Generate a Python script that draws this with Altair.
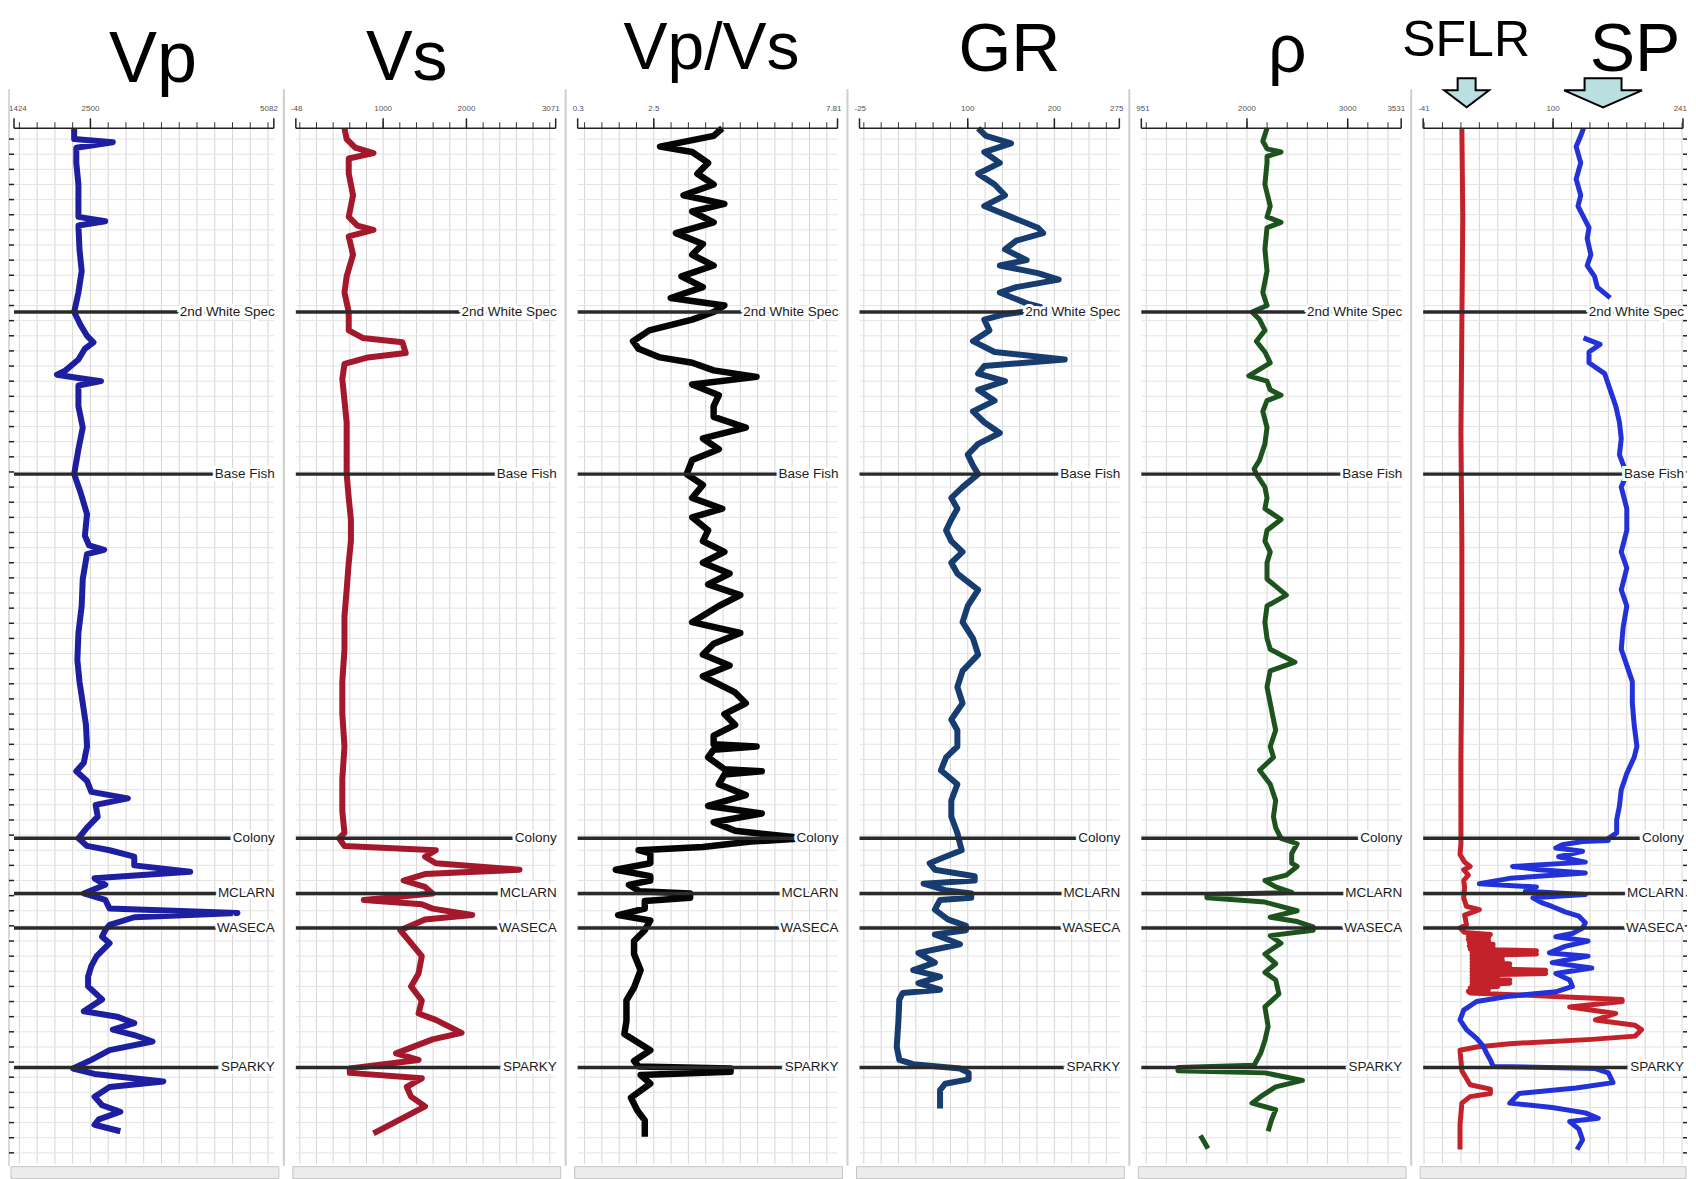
import altair as alt
import pandas as pd

# ---------------- layout / style ----------------
W, H = 260, 1036
DEPTH_DOMAIN = [118, 1076]
GRID_DEPTHS = list(range(128, 1067, 14))
LABEL_FONT = "'Liberation Sans Narrow', 'Arial Narrow', 'Liberation Sans', sans-serif"
TITLE_FONT = "'Liberation Sans', Arial, sans-serif"

# ---------------- data ----------------
TOP_NAMES = ["2nd White Spec", "Base Fish", "Colony", "MCLARN", "WASECA", "SPARKY"]
TOP_DEPTHS = [288, 438, 775, 826, 858, 987]

VP = [(118,2271),(128,2271),(131,2815),(136,2301),(150,2301),(170,2331),(190,2331),(200,2331),(204,2709),(208,2331),
      (230,2346),(250,2377),(270,2331),(288,2271),(300,2361),(310,2452),(316,2543),(322,2422),(332,2331),(342,2150),
      (346,2029),(349,2331),(352,2649),(356,2331),(375,2331),(395,2392),(415,2331),(438,2271),(455,2361),(475,2452),
      (495,2422),(504,2482),(508,2694),(512,2452),(535,2392),(560,2377),(585,2331),(610,2316),(630,2346),(650,2392),
      (670,2437),(690,2452),(705,2407),(713,2301),(722,2452),(732,2513),(738,3027),(744,2573),(755,2603),(765,2452),
      (775,2331),(782,2452),(786,2770),(792,3117),(800,3117),(806,3904),(812,2558),(818,2709),(826,2407),(832,2709),
      (840,2770),(844,4569),(848,3117),(855,2770),(860,2709),(866,2664),(872,2770),(884,2588),(893,2513),(903,2467),
      (912,2467),(924,2664),(935,2407),(940,2876),(946,3117),(952,2815),(957,3117),(963,3374),(971,2770),(980,2513),
      (988,2256),(993,2558),(1000,3526),(1005,2770),(1014,2558),(1022,2664),(1028,2921),(1035,2618),(1040,2558),(1046,2921)]

VS = [(118,536),(128,562),(136,665),(141,884),(146,587),(160,587),(180,639),(200,587),(208,691),(212,884),
      (218,587),(235,639),(255,562),(270,536),(288,587),(305,587),(312,755),(316,1232),(326,1271),(330,819),
      (336,536),(350,510),(370,536),(390,562),(410,562),(438,562),(460,587),(480,613),(500,613),(520,587),
      (545,562),(570,536),(600,536),(630,510),(660,510),(690,536),(720,510),(750,510),(770,536),(775,471),
      (782,536),(786,1632),(792,1503),(798,1632),(804,2637),(808,1503),(814,1245),(820,1503),(826,1593),(832,768),
      (836,1464),(840,1593),(846,2070),(850,1503),(860,1206),(872,1335),(884,1464),(900,1425),(912,1335),(925,1464),
      (937,1425),(943,1632),(955,1941),(961,1593),(974,1155),(980,1425),(988,600),(992,600),(997,1464),(1005,1284),
      (1014,1335),(1023,1503),(1035,1206),(1048,884)]

VPVS = [(118,4.48),(125,4.23),(135,2.68),(140,3.61),(150,4.07),(160,3.76),(170,4.23),(180,3.36),(188,4.54),(195,3.61),
        (205,4.23),(215,3.14),(225,3.92),(235,3.61),(245,4.23),(255,3.30),(265,3.92),(275,2.99),(282,4.54),(288,4.23),
        (295,3.61),(305,2.37),(315,1.90),(322,2.06),(330,2.68),(335,3.61),(342,4.23),(348,5.47),(355,3.61),(365,4.38),
        (375,4.23),(385,4.23),(395,5.16),(405,3.92),(415,4.38),(425,3.61),(438,3.45),(448,3.92),(460,3.61),(470,4.48),
        (478,3.61),(490,4.07),(500,3.92),(510,4.54),(520,3.92),(530,4.69),(540,4.07),(550,5.00),(560,4.38),(575,3.61),
        (585,5.00),(595,4.23),(605,3.92),(615,4.69),(625,3.92),(640,4.85),(650,5.16),(660,4.54),(670,4.85),(680,4.23),
        (688,4.23),(690,5.47),(693,4.23),(700,4.07),(711,4.54),(713,5.62),(716,4.54),(725,4.38),(735,5.16),(745,4.07),
        (752,5.62),(760,4.23),(768,4.85),(775,6.87),(778,5.31),(783,3.92),(786,2.06),(789,2.40),(798,2.40),(804,1.40),
        (810,2.40),(814,2.40),(818,1.78),(824,2.09),(826,3.55),(830,3.55),(833,2.24),(840,2.24),(846,1.47),(851,2.40),
        (860,2.24),(870,1.93),(882,1.93),(897,2.12),(913,1.93),(925,1.71),(944,1.71),(956,1.65),(971,2.40),(981,1.93),
        (986,2.06),(988,4.72),(991,4.72),(994,2.12),(1002,2.40),(1015,1.84),(1027,2.03),(1036,2.24),(1051,2.24)]

GR = [(118,112),(125,121),(132,150),(140,119),(150,137),(160,112),(170,131),(180,143),(190,119),(200,150),
      (210,181),(215,187),(222,156),(230,143),(240,168),(245,137),(252,181),(258,205),(265,156),(270,137),
      (280,168),(285,191),(290,143),(295,119),(305,125),(315,106),(325,131),(332,212),(338,119),(345,112),
      (352,143),(360,112),(370,131),(380,106),(390,119),(400,137),(410,112),(420,100),(430,106),(438,112),
      (450,94),(460,81),(470,88),(480,81),(490,75),(500,81),(510,94),(520,81),(530,88),(545,112),
      (560,100),(575,94),(590,106),(605,112),(620,94),(635,88),(650,94),(665,81),(675,88),(690,88),
      (700,75),(712,69),(725,88),(740,81),(755,81),(770,88),(780,91),(786,93),(792,74),(798,56),
      (804,62),(810,108),(814,108),(817,49),(823,74),(826,104),(830,104),(832,68),(841,62),(850,77),
      (856,98),(860,98),(864,62),(873,91),(881,43),(890,62),(897,37),(903,68),(909,43),(915,68),
      (918,25),(924,21),(943,20),(968,18),(980,21),(984,37),(988,91),(992,101),(998,101),(1002,74),
      (1008,68),(1017,68),(1025,68)]

RHO = [(118,2199),(130,2157),(137,2199),(140,2338),(144,2199),(150,2199),(170,2178),(190,2231),(200,2199),(205,2338),
       (210,2199),(230,2178),(250,2199),(270,2157),(282,2199),(288,2050),(295,2125),(305,2178),(315,2093),(325,2178),
       (335,2231),(347,2018),(352,2199),(360,2231),(365,2338),(370,2199),(380,2157),(395,2199),(410,2178),(425,2125),
       (433,2071),(438,2093),(450,2178),(460,2199),(470,2178),(480,2338),(490,2199),(500,2178),(510,2231),(520,2199),
       (535,2199),(550,2391),(560,2199),(575,2178),(590,2199),(600,2231),(612,2476),(620,2231),(635,2199),(650,2231),
       (665,2263),(675,2285),(690,2231),(700,2263),(712,2125),(725,2231),(740,2285),(755,2263),(765,2285),(775,2338),
       (780,2498),(789,2444),(798,2444),(801,2498),(809,2391),(814,2178),(820,2285),(825,2444),(827,1602),(830,1602),
       (834,2178),(842,2498),(848,2231),(852,2498),(857,2658),(860,2658),(865,2231),(872,2338),(882,2178),(891,2285),
       (899,2178),(906,2285),(919,2317),(931,2178),(949,2210),(962,2178),(974,2135),(985,2071),(987,1315),(990,1315),
       (992,2178),(999,2551),(1005,2285),(1014,2135),(1020,2050),(1026,2285),(1036,2242),(1046,2210)]
RHO_TAIL = [(1050,1538),(1062,1613)]

SFLR = [(118,1),(200,2),(300,1),(400,0),(500,1),(600,1),(700,0),(780,0),(790,-1),(797,4),
        (801,10),(804,3),(809,8),(814,3),(820,4),(830,3),(838,6),(841,20),(846,4),(855,6),
        (858,-1),(862,4),(864,32),(865.5,8),(867,30),(868.5,8),(870,30),(871.5,9),(873,35),(874.5,9),
        (876,35),(877.5,10),(879,82),(880.5,12),(882,82),(883.5,12),(885,45),(886.5,12),(888,45),(889.5,12),
        (891,53),(892.5,12),(894,53),(895.5,12),(897,92),(898.5,12),(900,92),(901.5,12),(903,40),(904.5,12),
        (906,53),(907.5,12),(909,53),(910.5,12),(912,40),(913.5,10),(915,30),(916.5,8),(918,10),
        (921,96),(924,175),(926,175),(931,118),(937,168),(943,146),(948,189),(952,196),(958,189),(961,142),
        (965,53),(968,17),(971,-1),(990,1),(1003,10),(1007,32),(1011,32),(1014,10),(1020,1),(1040,-1),(1063,-1)]

SP_UPPER = [(118,133),(125,130),(135,125),(150,130),(165,125),(180,130),(190,127),(200,133),(210,139),(220,137),
            (235,141),(245,137),(255,145),(265,148),(275,162)]
SP_LOWER = [(312,133),(318,151),(325,139),(335,139),(345,156),(360,162),(375,168),(390,172),(405,174),(420,172),
            (438,180),(450,174),(470,180),(490,180),(510,174),(525,180),(545,174),(560,180),(580,176),(600,174),
            (615,180),(630,186),(650,186),(670,188),(690,191),(700,188),(715,180),(730,174),(745,172),(758,169),
            (770,169),(775,160),(777,160),(778,132),(781,110),(784,103),(787,132),(792,106),(797,135),(801,56),
            (804,85),(807,135),(812,53),(817,20),(820,82),(824,70),(827,135),(830,78),(835,89),(838,99),
            (843,113),(847,128),(853,135),(858,132),(863,121),(866,103),(870,138),(875,113),(881,96),(884,138),
            (890,99),(895,142),(900,103),(906,118),(912,121),(917,103),(921,53),(926,17),(934,3),(943,-1),
            (952,6),(960,17),(967,24),(974,28),(980,32),(986,35),(988,146),(992,160),(1001,165),(1006,125),
            (1011,63),(1020,53),(1024,99),(1029,135),(1034,149),(1037,118),(1044,128),(1054,132),(1063,126)]

# scale tick values / labels of each track
VP_TICKS = list(range(1500, 5001, 250))
VP_LABELS = [1424, 2500, 5082]
VS_TICKS = list(range(0, 3001, 200))
VS_LABELS = [-48, 1000, 2000, 3071]
VPVS_TICKS = [0.5, 1.0, 1.5, 2.0, 2.5, 3.0, 3.5, 4.0, 4.5, 5.0, 5.5, 6.0, 6.5, 7.0, 7.5]
VPVS_LABELS = [0.3, 2.5, 7.81]
GR_TICKS = list(range(-20, 261, 20))
GR_LABELS = [-25, 100, 200, 275]
RHO_TICKS = list(range(1000, 3401, 200))
RHO_LABELS = [951, 2000, 3000, 3531]
SP_TICKS = list(range(-40, 241, 20))
SP_LABELS = [-41, 100, 241]

ARROW_SMALL = "M -0.4 -0.644 L 0.4 -0.644 L 0.4 -0.111 L 1 -0.111 L 0 0.644 L -1 -0.111 L -0.4 -0.111 Z"
ARROW_BIG = "M -0.474 -0.372 L 0.474 -0.372 L 0.474 -0.064 L 1 -0.064 L 0 0.372 L -1 -0.064 L -0.474 -0.064 Z"

TRACKS = [
    dict(domain=[1424, 5082], ticks=VP_TICKS, labels=VP_LABELS,
         curves=[("Vp", [VP], "#1e1ea0", 6)],
         titles=[("Vp", 139, -46, 72)], arrows=[]),
    dict(domain=[-48, 3071], ticks=VS_TICKS, labels=VS_LABELS,
         curves=[("Vs", [VS], "#a3192b", 6)],
         titles=[("Vs", 111, -48, 70)], arrows=[]),
    dict(domain=[0.3, 7.81], ticks=VPVS_TICKS, labels=VPVS_LABELS,
         curves=[("Vp/Vs", [VPVS], "#050505", 6.5)],
         titles=[("Vp/Vs", 134, -59, 66)], arrows=[]),
    dict(domain=[-25, 275], ticks=GR_TICKS, labels=GR_LABELS,
         curves=[("GR", [GR], "#173c70", 6)],
         titles=[("GR", 150, -57.5, 68)], arrows=[]),
    dict(domain=[951, 3531], ticks=RHO_TICKS, labels=RHO_LABELS,
         curves=[("rho", [RHO, RHO_TAIL], "#1d531d", 5)],
         titles=[("ρ", 146, -56, 68)], arrows=[]),
    dict(domain=[-41, 241], ticks=SP_TICKS, labels=SP_LABELS,
         curves=[("SFLR", [SFLR], "#c4222a", 5), ("SP", [SP_UPPER, SP_LOWER], "#2232d8", 5)],
         titles=[("SFLR", 43, -72, 50), ("SP", 212, -57.5, 68)],
         arrows=[(ARROW_SMALL, 2025, 43.5, -35.5), (ARROW_BIG, 6084, 180, -35.5)]),
]


def fmt(v):
    return ("%g" % v)


def build(i, trk):
    xs = alt.Scale(domain=trk["domain"], nice=False, zero=False)
    ys = alt.Scale(domain=DEPTH_DOMAIN, reverse=True, nice=False, zero=False)

    def X(f):
        return alt.X(f + ":Q", scale=xs, axis=None)

    def Y(f):
        return alt.Y(f + ":Q", scale=ys, axis=None)

    one = pd.DataFrame({"k": [0]})
    layers = []
    # invisible (white) anchor fixing the top of the chart bounds
    layers.append(alt.Chart(one).mark_rule(color="white", strokeWidth=1)
                  .encode(x=alt.value(0), x2=alt.value(2), y=alt.value(-119)))
    # grid
    layers.append(alt.Chart(pd.DataFrame({"v": trk["ticks"]})).mark_rule(color="#d6d6d6", strokeWidth=1)
                  .encode(x=X("v"), y=alt.value(0), y2=alt.value(H)))
    layers.append(alt.Chart(pd.DataFrame({"d": GRID_DEPTHS})).mark_rule(color="#e4e4e4", strokeWidth=1)
                  .encode(y=Y("d"), x=alt.value(0), x2=alt.value(W)))
    # track separators
    if i < 5:
        layers.append(alt.Chart(one).mark_rule(color="#cdcdcd", strokeWidth=2)
                      .encode(x=alt.value(W + 10), y=alt.value(-39), y2=alt.value(H + 2)))
    if i == 0:
        layers.append(alt.Chart(one).mark_rule(color="#cdcdcd", strokeWidth=1.5)
                      .encode(x=alt.value(-5), y=alt.value(-39), y2=alt.value(H + 2)))
        layers.append(alt.Chart(pd.DataFrame({"d": GRID_DEPTHS})).mark_rule(color="#222", strokeWidth=1.5)
                      .encode(y=Y("d"), x=alt.value(-5), x2=alt.value(0)))
    if i == 5:
        layers.append(alt.Chart(pd.DataFrame({"d": GRID_DEPTHS})).mark_rule(color="#222", strokeWidth=1.5)
                      .encode(y=Y("d"), x=alt.value(W), x2=alt.value(W + 4)))
    # bottom scroll bar
    layers.append(alt.Chart(one).mark_rect(fill="#ececec", stroke="#c4c4c4", strokeWidth=1)
                  .encode(x=alt.value(-3), x2=alt.value(W + (3 if i == 5 else 5)),
                          y=alt.value(H + 3), y2=alt.value(H + 15)))
    # curves
    for name, segs, color, sw in trk["curves"]:
        rows = []
        for s, seg in enumerate(segs):
            for d, v in seg:
                rows.append({"depth": d, "value": v, "seg": s})
        layers.append(alt.Chart(pd.DataFrame(rows)).mark_line(color=color, strokeWidth=sw,
                                                              strokeJoin="round", strokeCap="butt")
                      .encode(x=X("value"), y=Y("depth"), order="depth:Q", detail="seg:N"))
    # formation tops
    tops = pd.DataFrame({"name": TOP_NAMES, "depth": TOP_DEPTHS})
    layers.append(alt.Chart(tops).mark_rule(color="#2a2a2a", strokeWidth=3.5)
                  .encode(y=Y("depth"), x=alt.value(0), x2=alt.value(W)))
    layers.append(alt.Chart(tops).mark_text(align="right", baseline="middle", font=LABEL_FONT, fontSize=13.5,
                                            fill="white", stroke="white", strokeWidth=6)
                  .encode(y=Y("depth"), x=alt.value(W + 1), text="name:N"))
    layers.append(alt.Chart(tops).mark_text(align="right", baseline="middle", font=LABEL_FONT, fontSize=13.5,
                                            color="#1c1c1c")
                  .encode(y=Y("depth"), x=alt.value(W + 1), text="name:N"))
    # top scale
    layers.append(alt.Chart(one).mark_rule(color="#222", strokeWidth=1.5)
                  .encode(x=alt.value(0), x2=alt.value(W), y=alt.value(0)))
    layers.append(alt.Chart(pd.DataFrame({"v": trk["ticks"]})).mark_rule(color="#333", strokeWidth=1)
                  .encode(x=X("v"), y=alt.value(-6), y2=alt.value(0)))
    layers.append(alt.Chart(pd.DataFrame({"v": trk["labels"]})).mark_rule(color="#222", strokeWidth=1.5)
                  .encode(x=X("v"), y=alt.value(-10), y2=alt.value(0)))
    labs = trk["labels"]
    lab_df = pd.DataFrame({"v": labs, "t": [fmt(v) for v in labs]})
    for part, align, dx in [(lab_df.iloc[:1], "left", -5), (lab_df.iloc[1:-1], "center", 0),
                            (lab_df.iloc[-1:], "right", 4)]:
        layers.append(alt.Chart(part).mark_text(align=align, baseline="middle", dx=dx, fontSize=8,
                                                font=TITLE_FONT, color="#555")
                      .encode(x=X("v"), y=alt.value(-19), text="t:N"))
    # titles and arrows
    for txt, tx, ty, fs in trk["titles"]:
        layers.append(alt.Chart(one).mark_text(text=txt, font=TITLE_FONT, fontSize=fs, align="center",
                                               baseline="alphabetic", color="black")
                      .encode(x=alt.value(tx), y=alt.value(ty)))
    for path, size, ax, ay in trk["arrows"]:
        layers.append(alt.Chart(one).mark_point(shape=path, size=size, filled=True, fill="#b9dfe0",
                                                stroke="black", strokeWidth=2, opacity=1)
                      .encode(x=alt.value(ax), y=alt.value(ay)))
    return alt.layer(*layers).properties(width=W, height=H)


panels = [build(i, t) for i, t in enumerate(TRACKS)]
chart = (alt.hconcat(*panels, spacing=22, bounds="flush")
         .properties(padding=0, background="white")
         .configure_view(stroke=None))
chart.save("out.html", embed_options={"renderer": "svg", "actions": False})
